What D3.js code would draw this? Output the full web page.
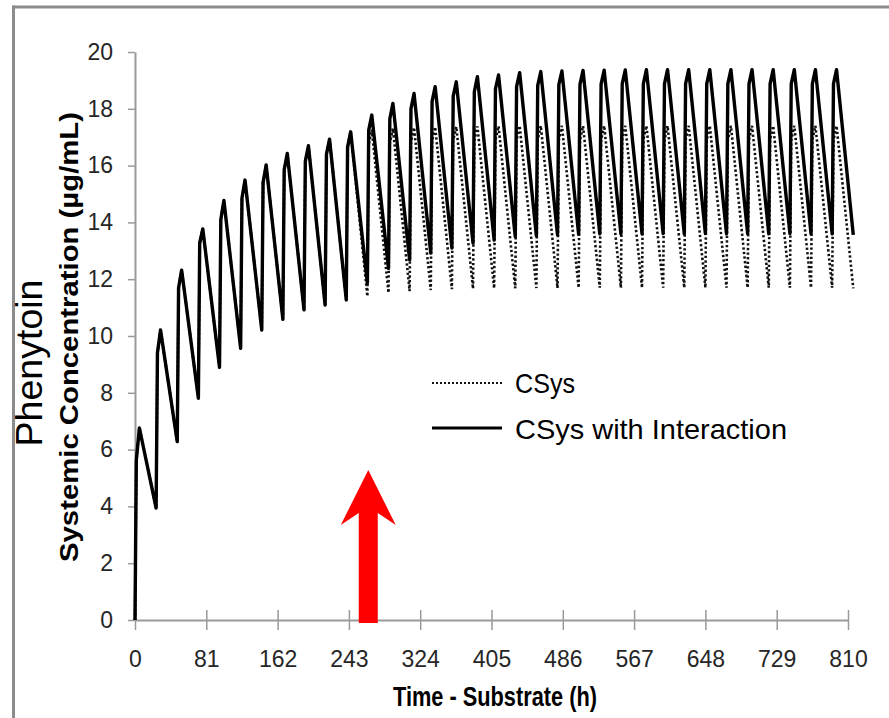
<!DOCTYPE html>
<html>
<head>
<meta charset="utf-8">
<script src="https://cdn.jsdelivr.net/npm/d3@7"></script>
<style>
  body { margin: 0; background: #fff; }
  svg { display: block; }
</style>
</head>
<body>
<div id="chart"></div>
<script>
// dose times (h), one every 24 h, last entry is the end of the run
const doseTimes = [0, 24, 48, 72, 96, 120, 144, 168, 192, 216, 240, 264, 288, 312, 336, 360, 384,
  408, 432, 456, 480, 504, 528, 552, 576, 600, 624, 648, 672, 696, 720, 744, 768, 792, 816];

// CSys (no interaction): trough at each dose, shoulder and peak after it
const troughSys = [0, 3.94, 6.28, 7.81, 8.90, 9.57, 10.21, 10.59, 10.92, 11.09, 11.27, 11.40, 11.52,
  11.58, 11.62, 11.65, 11.67, 11.68, 11.68, 11.69, 11.69, 11.70, 11.70, 11.70, 11.70, 11.70, 11.70,
  11.70, 11.70, 11.70, 11.70, 11.70, 11.70, 11.70, 11.68];
const shoulderSys = [5.63, 9.40, 11.69, 13.27, 14.10, 14.85, 15.40, 15.85, 16.15, 16.40, 16.65, 16.75,
  16.80, 16.84, 16.86, 16.88, 16.89, 16.90, 16.90, 16.90, 16.90, 16.90, 16.90, 16.90, 16.90, 16.90,
  16.90, 16.90, 16.90, 16.90, 16.90, 16.90, 16.90, 16.90];
const peakSys = [6.76, 10.21, 12.32, 13.77, 14.77, 15.49, 16.02, 16.43, 16.70, 16.93, 17.19, 17.26,
  17.31, 17.34, 17.36, 17.37, 17.38, 17.39, 17.40, 17.40, 17.40, 17.40, 17.40, 17.40, 17.40, 17.40,
  17.40, 17.40, 17.40, 17.40, 17.40, 17.40, 17.40, 17.40];

// CSys with Interaction
const troughInt = [0, 3.94, 6.28, 7.81, 8.90, 9.57, 10.21, 10.59, 10.92, 11.09, 11.27, 11.86, 12.38,
  12.68, 12.92, 13.10, 13.27, 13.38, 13.50, 13.53, 13.56, 13.58, 13.60, 13.60, 13.60, 13.61, 13.60,
  13.61, 13.60, 13.61, 13.60, 13.61, 13.60, 13.60, 13.56];
const shoulderInt = [5.63, 9.40, 11.69, 13.27, 14.10, 14.85, 15.40, 15.85, 16.15, 16.40, 16.65, 17.25,
  17.65, 18.00, 18.25, 18.45, 18.60, 18.70, 18.78, 18.82, 18.85, 18.86, 18.87, 18.88, 18.88, 18.88,
  18.88, 18.88, 18.88, 18.88, 18.88, 18.88, 18.88, 18.88];
const peakInt = [6.76, 10.21, 12.32, 13.77, 14.77, 15.49, 16.02, 16.43, 16.70, 16.93, 17.19, 17.78,
  18.19, 18.54, 18.78, 18.95, 19.13, 19.19, 19.27, 19.31, 19.33, 19.35, 19.36, 19.37, 19.38, 19.38,
  19.38, 19.38, 19.38, 19.38, 19.38, 19.38, 19.38, 19.38];

const shoulderLag = 1.5, peakLag = 5;   // hours after each dose
const arrowTime = 265;                  // start of the interaction

const xTicks = [0, 81, 162, 243, 324, 405, 486, 567, 648, 729, 810];
const yTicks = [0, 2, 4, 6, 8, 10, 12, 14, 16, 18, 20];

const width = 889, height = 718;
const svg = d3.select("#chart").append("svg")
  .attr("width", width)
  .attr("height", height);

// outer frame (top and left edges show)
svg.append("line").attr("x1", 12).attr("x2", width).attr("y1", 7).attr("y2", 7)
  .attr("stroke", "#8c8c8c").attr("stroke-width", 3);
svg.append("line").attr("x1", 13.5).attr("x2", 13.5).attr("y1", 5.5).attr("y2", height)
  .attr("stroke", "#8c8c8c").attr("stroke-width", 3);

const x = d3.scaleLinear().domain([0, 810]).range([135, 848]);
const y = d3.scaleLinear().domain([0, 20]).range([620, 52]);

const tickFont = "'Liberation Sans Narrow', 'Liberation Sans', Arial, sans-serif";

// y axis
const gy = svg.append("g")
  .attr("transform", "translate(" + x(0) + ",0)")
  .call(d3.axisLeft(y).tickValues(yTicks).tickSize(7).tickSizeOuter(0).tickPadding(15));
gy.select(".domain").attr("stroke", "#9a9a9a").attr("stroke-width", 2);
gy.selectAll(".tick line").attr("stroke", "#9a9a9a").attr("stroke-width", 1.5);
gy.selectAll("text").attr("font-family", tickFont).attr("font-size", 23).attr("fill", "#262626");

// x axis, ticks cross the line
const gx = svg.append("g")
  .attr("transform", "translate(0," + y(0) + ")")
  .call(d3.axisBottom(x).tickValues(xTicks).tickSize(10).tickSizeOuter(0).tickPadding(21)
    .tickFormat(d3.format("d")));
gx.select(".domain").attr("stroke", "#9a9a9a").attr("stroke-width", 2);
gx.selectAll(".tick line").attr("y1", -10).attr("stroke", "#9a9a9a").attr("stroke-width", 1.5);
gx.selectAll("text").attr("font-family", tickFont).attr("font-size", 23).attr("fill", "#262626");

// axis titles
svg.append("text")
  .attr("x", 393).attr("y", 706)
  .attr("font-family", tickFont).attr("font-weight", "bold").attr("font-size", 28)
  .attr("textLength", 204).attr("lengthAdjust", "spacingAndGlyphs")
  .text("Time - Substrate (h)");

svg.append("text")
  .attr("transform", "translate(78,337) rotate(-90)")
  .attr("text-anchor", "middle")
  .attr("font-family", tickFont).attr("font-weight", "bold").attr("font-size", 25)
  .attr("textLength", 450).attr("lengthAdjust", "spacingAndGlyphs")
  .text("Systemic Concentration (µg/mL)");

svg.append("text")
  .attr("transform", "translate(42,363) rotate(-90)")
  .attr("text-anchor", "middle")
  .attr("font-family", "'Liberation Sans', Arial, sans-serif").attr("font-size", 36)
  .attr("textLength", 167).attr("lengthAdjust", "spacingAndGlyphs")
  .text("Phenytoin");

// build the saw-tooth lines from the read values
function buildSeries(trough, shoulder, peak) {
  let pts = [];
  for (let k = 0; k < peak.length; k++) {
    pts.push({ t: doseTimes[k], v: trough[k] });
    pts.push({ t: doseTimes[k] + shoulderLag, v: shoulder[k] });
    pts.push({ t: doseTimes[k] + peakLag, v: peak[k] });
  }
  pts.push({ t: doseTimes[peak.length], v: trough[peak.length] });
  return pts;
}

const line = d3.line()
  .x(d => x(d.t))
  .y(d => y(d.v));

svg.append("path")
  .datum(buildSeries(troughSys, shoulderSys, peakSys))
  .attr("d", line)
  .attr("fill", "none")
  .attr("stroke", "#111")
  .attr("stroke-width", 2.6)
  .attr("stroke-dasharray", "2.3,2.3");

svg.append("path")
  .datum(buildSeries(troughInt, shoulderInt, peakInt))
  .attr("d", line)
  .attr("fill", "none")
  .attr("stroke", "#000")
  .attr("stroke-width", 3.4)
  .attr("stroke-linejoin", "round");

// legend
const legend = svg.append("g");
legend.append("line").attr("x1", 432).attr("x2", 502).attr("y1", 383).attr("y2", 383)
  .attr("stroke", "#111").attr("stroke-width", 2).attr("stroke-dasharray", "2,2");
legend.append("line").attr("x1", 432).attr("x2", 502).attr("y1", 428).attr("y2", 428)
  .attr("stroke", "#000").attr("stroke-width", 3);
legend.append("text").attr("x", 515).attr("y", 393)
  .attr("font-family", "'Liberation Sans', Arial, sans-serif").attr("font-size", 28)
  .attr("textLength", 60).attr("lengthAdjust", "spacingAndGlyphs")
  .text("CSys");
legend.append("text").attr("x", 515).attr("y", 439)
  .attr("font-family", "'Liberation Sans', Arial, sans-serif").attr("font-size", 28)
  .attr("textLength", 272).attr("lengthAdjust", "spacingAndGlyphs")
  .text("CSys with Interaction");

// red arrow marking the interaction start
const ax = x(arrowTime);
const tipY = 470, headY = 525, notchY = 513, baseY = 623;
svg.append("path")
  .attr("d", "M" + ax + "," + tipY +
    "L" + (ax + 27.5) + "," + headY +
    "L" + (ax + 9.5) + "," + notchY +
    "L" + (ax + 9.5) + "," + baseY +
    "L" + (ax - 9.5) + "," + baseY +
    "L" + (ax - 9.5) + "," + notchY +
    "L" + (ax - 27.5) + "," + headY + "Z")
  .attr("fill", "#ff0000");
</script>
</body>
</html>
